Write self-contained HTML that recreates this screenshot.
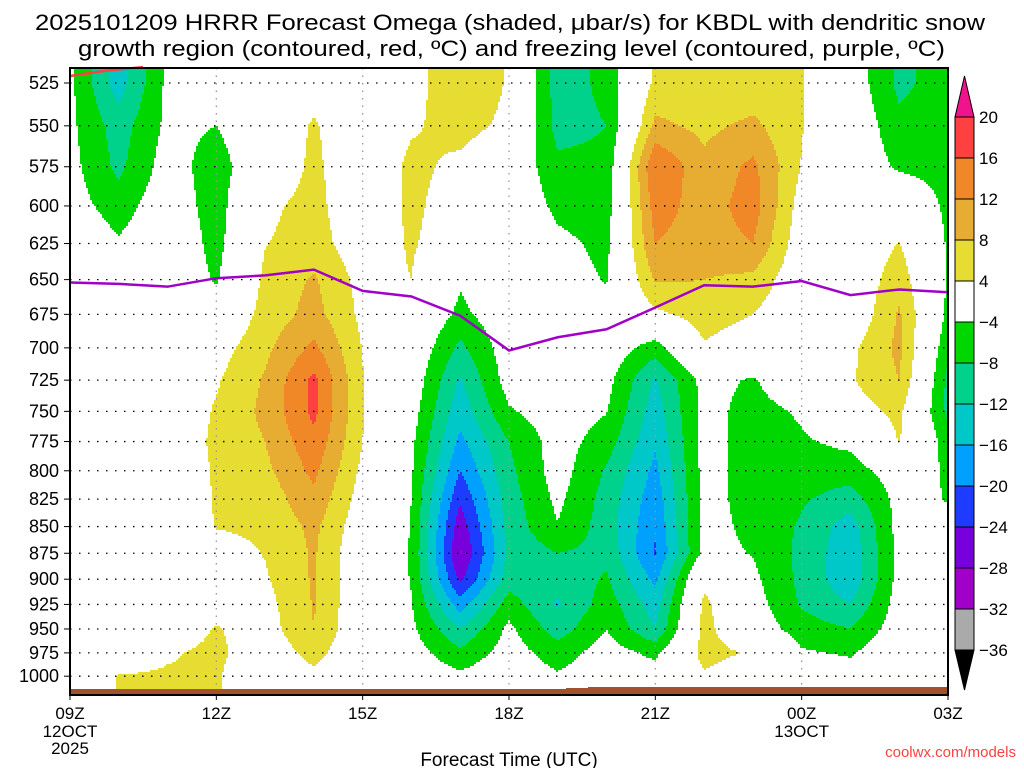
<!DOCTYPE html>
<html><head><meta charset="utf-8"><style>
body{margin:0;background:#fff;}
svg text{font-family:"Liberation Sans",sans-serif;}
</style></head><body>
<svg id="chart" width="1024" height="768" viewBox="0 0 1024 768" xmlns="http://www.w3.org/2000/svg">
<rect width="1024" height="768" fill="#fff"/>
<g id="fill"></g>
<g id="grid"></g>
<g id="lines"></g>
<g id="axes"></g>
<g id="cbar"></g>
<text x="35" y="30" font-size="22" textLength="950" lengthAdjust="spacingAndGlyphs">2025101209 HRRR Forecast Omega (shaded, μbar/s) for KBDL with dendritic snow</text>
<text x="78" y="56" font-size="22" textLength="867" lengthAdjust="spacingAndGlyphs">growth region (contoured, red, ºC) and freezing level (contoured, purple, ºC)</text>
<text x="509" y="766" font-size="19" text-anchor="middle">Forecast Time (UTC)</text>
<text x="1016" y="757" font-size="15" fill="#ff4040" text-anchor="end">coolwx.com/models</text>
</svg>
<script>
const levels=[525,550,575,600,625,650,675,700,725,750,775,800,825,850,875,900,925,950,975,1000];
const timeLabels=["09Z","12Z","15Z","18Z","21Z","00Z","03Z"];
const dateLabels=[["12OCT","2025"],null,null,null,null,["13OCT"],null];
const cbarValues=[20,16,12,8,4,-4,-8,-12,-16,-20,-24,-28,-32,-36];
// omega columns, hourly 09Z..03Z, values per level 525..1000
const om00=[-3,-3,-2.5,-2,0,0,0,0,0,0,0,0,0,0,0,0,0,0,0,0];
const om01=[-14,-10,-9,-6,-3.5,-1,0,0,0,0,0,0,0,0,0,0,0,0,1,4.2];
const om02=[-3,-3,-2,-1,0,0,0,0,0,0,0,0,0,0,0,0,0,1,3.5,4.5];
const om03=[-1,-4,-6,-6,-5.5,-4.5,-1,2,3.5,4.5,5,4.6,4.4,4.2,2,1,2,4.3,5,4.5];
const om04=[0,0,0,3,3.8,5,5.5,7,8.5,9,8,7,5.5,4.8,4.2,3.5,2.5,2,1,0];
const om05=[2,4.5,5,5.5,6,8.5,9.5,13,17,17,15,13,11,9,8.5,8.5,8.3,8,5.5,3];
const om06=[0,0,0,0,1,2.5,3,3.8,4.2,4.2,4,3,2,1,0,0,0,0,0,0];
const om07=[2,3.5,5,5,4.5,4,1,0,-1,-2,-3,-3.5,-4,-4.2,-4.3,-4.2,-3.8,-3,-2,-1];
const om08=[8,5.5,3,1.5,1,-3.5,-5,-9,-12.5,-14.5,-17,-20,-23.5,-26.5,-28.5,-25,-18,-12,-7,-3];
const om09=[3.5,3,0,0,0,0,-1,-1.5,-2,-4.5,-8,-9,-10,-10.5,-11,-10,-6,-3,-2,-1];
const om10=[-10,-9.5,-7,-5,-3,-2,-1,-1,-1,-1.5,-2,-2,-3,-4.2,-8,-11,-12.5,-10,-6,-3.5];
const om11=[-7,-8,-7,-6,-5,-4.3,-2,-1,-2.5,-3.8,-6,-8.5,-9.5,-10,-9,-7.5,-6,-4,-2,-1];
const om12=[5,9,16.2,14,12,8.5,3,-6,-12.5,-14,-15.5,-17,-18.5,-19.5,-20.5,-17,-14,-12,-5,-2];
const om13=[4.2,7,9,10,10,8,6,3.5,-2.5,-2.5,-2.5,-2.5,-2.5,-2.5,-2.5,3,5,5.5,5.5,3.5];
const om14=[5,9,13,14,12,7,4,1,-4.5,-5.5,-5.5,-5.5,-5.5,-5,-4.2,-3,-2,-1,3.5,1];
const om15=[4.2,4.2,3.8,2,1,0.5,0,0,0,-3.5,-4.5,-5.5,-7.5,-8.5,-9,-9,-8.5,-6,-3.5,-1];
const om16=[-1,0,0,0,0,0,0,3,3.5,2,-3,-6,-10,-14,-15,-15,-12,-8,-4.5,-2];
const om17=[-9,-7,-4.8,1,4.2,6.5,8.5,9,8,5,4.2,-1.5,-2.5,-2.5,-2.5,-2.5,-2,-1.5,0,0];
const om18=[-6,-6,-5.5,-5,-4.5,-4.5,-5,-7,-9,-9,-6,-4.5,-4.2,-3,-1,0,0,0,0,0];
const freezingLevel=[652,653,655,649,647,643,658,662,676,702,692,686,670,654,655,651,661,657,659];
const dgzTop=[521,518,516];

const cols=[om00,om01,om02,om03,om04,om05,om06,om07,om08,om09,om10,om11,om12,om13,om14,om15,om16,om17,om18];
const NS="http://www.w3.org/2000/svg";
const X0=70,X1=948,Y0=68,Y1=695,HR=(X1-X0)/18;
const xT=h=>X0+h*HR;
const yP=p=>83+920.6*Math.log(p/525);
const pY=y=>525*Math.exp((y-83)/920.6);
function el(t,a,parent){const e=document.createElementNS(NS,t);for(const k in a)e.setAttribute(k,a[k]);parent.appendChild(e);return e;}
const bins=[[20,"#f0148c"],[16,"#ff4040"],[12,"#f08828"],[8,"#e6ad32"],[4,"#e6dc32"],[-4,null],[-8,"#00d700"],[-12,"#00d28c"],[-16,"#00c8c8"],[-20,"#00a0ff"],[-24,"#1e3cff"],[-28,"#7800dc"],[-32,"#a000c8"],[-36,"#aaaaaa"],[-1e9,"#000"]];
function colorOf(v){for(const b of bins){if(v>=b[0])return b[1];}return "#000";}
function levIdx(p){if(p<=levels[0])return 0;if(p>=levels[levels.length-1])return levels.length-1;
 for(let i=0;i<levels.length-1;i++){if(p<=levels[i+1]){return i+Math.log(p/levels[i])/Math.log(levels[i+1]/levels[i]);}}return levels.length-1;}
function val(t,li){const i0=Math.min(Math.floor(t),cols.length-2),fi=t-i0;const j0=Math.min(Math.floor(li),levels.length-2),fj=li-j0;
 const a=cols[i0][j0],b=cols[i0+1][j0],c=cols[i0][j0+1],d=cols[i0+1][j0+1];
 return a*(1-fi)*(1-fj)+b*fi*(1-fj)+c*(1-fi)*fj+d*fi*fj;}
const fill=document.getElementById('fill');
const S=2;
for(let y=Y0;y<Y1;y+=S){const li=levIdx(pY(y+S/2));let runC=null,runX=X0;
 for(let x=X0;x<=X1;x+=S){let c=null;if(x<X1){const t=Math.max(0,Math.min(18,(x+S/2-X0)/HR));c=colorOf(val(t,li));}
  if(x===X1||c!==runC){if(runC){const r=el('rect',{x:runX,y:y,width:x-runX,height:S,fill:runC},fill);
    
    }
   runC=c;runX=x;}}}
// terrain
const ax=document.getElementById('axes');
const tr=el('polygon',{points:`${X0},689 566,689 566,688 588,688 588,687 ${X1},687 ${X1},695 ${X0},695`,fill:"#a0522d"},ax);


// grid
const g=document.getElementById('grid');
levels.forEach(p=>{const l=el('line',{x1:X0,x2:X1,y1:yP(p),y2:yP(p),stroke:"#000","stroke-width":1.3,"stroke-dasharray":"1.5 7.5"},g);
 
 
 const t=el('text',{x:59,y:yP(p)+6,"font-size":18,"text-anchor":"end"},ax);t.textContent=p;
 
 
 el('line',{x1:X0-6,x2:X0,y1:yP(p),y2:yP(p),stroke:"#000"},ax);});
timeLabels.forEach((s,i)=>{const x=xT(i*3);
 if(i>0&&i<6){const l=el('line',{x1:x,x2:x,y1:Y0,y2:Y1,stroke:"#999","stroke-width":1.3,"stroke-dasharray":"1.5 6"},g);
  
  }
 el('line',{x1:x,x2:x,y1:Y1,y2:Y1+5,stroke:"#000"},ax);
 const t=el('text',{x:x,y:719,"font-size":17,"text-anchor":"middle"},ax);t.textContent=s;
 
 
 if(dateLabels[i])dateLabels[i].forEach((d,k)=>{const u=el('text',{x:x,y:737+k*17,"font-size":17,"text-anchor":"middle"},ax);u.textContent=d;
  
  });});
// freezing line
const ln=document.getElementById('lines');
const fz=el('polyline',{points:freezingLevel.map((p,i)=>xT(i)+','+yP(p)).join(' '),fill:"none",stroke:"#a000c8","stroke-width":2.5},ln);


const dz=el('polyline',{points:dgzTop.map((p,i)=>xT(i*0.75)+','+yP(p)).join(' '),fill:"none",stroke:"#ff4040","stroke-width":2.5},ln);


const fr=el('rect',{x:X0,y:Y0,width:X1-X0,height:Y1-Y0,fill:"none",stroke:"#000","stroke-width":2},ax);


// colorbar
const cb=document.getElementById('cbar');
const CX=955,CW=19,cy=i=>117+i*41.0;
cbarValues.forEach((v,i)=>{if(i<cbarValues.length-1){const c=colorOf((v+cbarValues[i+1])/2)||"#fff";
 const r=el('rect',{x:CX,y:cy(i),width:CW,height:41,fill:c,stroke:"#000","stroke-width":1},cb);
 
 }
 const t=el('text',{x:979,y:cy(i)+6,"font-size":17},cb);t.textContent=v<0?'\u2212'+(-v):v;
 
 });
const tp=el('polygon',{points:`${CX},117 ${CX+CW/2},76 ${CX+CW},117`,fill:"#f0148c",stroke:"#000"},cb);


const yb=cy(cbarValues.length-1);
const bt=el('polygon',{points:`${CX},${yb} ${CX+CW/2},690 ${CX+CW},${yb}`,fill:"#000",stroke:"#000"},cb);


</script>
</body></html>
